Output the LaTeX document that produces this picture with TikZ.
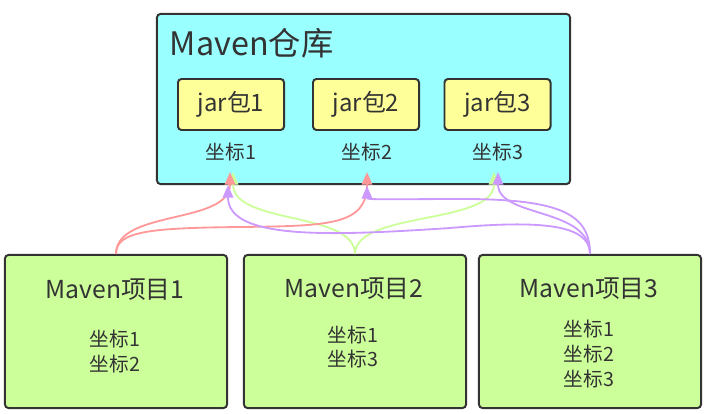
\documentclass[tikz,border=0pt]{standalone}
\usepackage{fontspec}
\setmainfont{Noto Sans CJK SC}
\usetikzlibrary{arrows.meta}

\definecolor{repocyan}{HTML}{99FFFF}
\definecolor{jaryellow}{HTML}{FFFF99}
\definecolor{projgreen}{HTML}{CCFF99}
\definecolor{edgegray}{HTML}{333333}
\definecolor{linkred}{HTML}{FF9999}
\definecolor{linkgreen}{HTML}{CCFF99}
\definecolor{linkpurple}{HTML}{CC99FF}

\begin{document}
\begin{tikzpicture}[x=0.025cm,y=-0.025cm,
    box/.style={draw=edgegray, line width=1.4pt, rounded corners=2.5pt, inner sep=0pt, text=edgegray},
    repobox/.style={box, fill=repocyan, minimum width=10.325cm, minimum height=4.25cm},
    jarbox/.style={box, fill=jaryellow, minimum width=2.65cm, minimum height=1.275cm, font=\fontsize{17}{20}\selectfont},
    projbox/.style={box, fill=projgreen, minimum width=5.55cm, minimum height=3.825cm},
    projtitle/.style={text=edgegray, font=\fontsize{17.6}{21}\selectfont},
    keytext/.style={text=edgegray, font=\fontsize{14}{17.5}\selectfont, align=center},
    link/.style={line width=1.3pt, -{Triangle[length=9pt,width=7.5pt]}}]
        \useasboundingbox (0,0) rectangle (707,413);

        % repository
        \node[repobox] (repo) at (363.5,99) {};
        \node[anchor=west, text=edgegray, font=\fontsize{23}{26}\selectfont] (repotitle) at (165,43) {Maven仓库};

        \node[jarbox] (jar1) at (231,104.5) {jar包1};
        \node[jarbox] (jar2) at (366,104.5) {jar包2};
        \node[jarbox] (jar3) at (497.5,104.5) {jar包3};

        \node[keytext] (key1) at (231,152) {坐标1};
        \node[keytext] (key2) at (367,152) {坐标2};
        \node[keytext] (key3) at (498,152) {坐标3};

        % arrow tips under the coordinates
        \coordinate (red1) at (230,172);
        \coordinate (green1) at (233,172);
        \coordinate (purple1) at (228,185);
        \coordinate (red2) at (367,172);
        \coordinate (purple2) at (367,186);
        \coordinate (green3) at (494,172);
        \coordinate (purple3) at (498,172);

        % projects
        \node[projbox] (proj1) at (116,331.5) {};
        \node[projtitle] (proj1title) at (115,290) {Maven项目1};
        \node[keytext] (proj1keys) at (115,351.5) {坐标1\\坐标2};

        \node[projbox] (proj2) at (355,331.5) {};
        \node[projtitle] (proj2title) at (354,289) {Maven项目2};
        \node[keytext] (proj2keys) at (353,347) {坐标1\\坐标3};

        \node[projbox] (proj3) at (590,331.5) {};
        \node[projtitle] (proj3title) at (589,289) {Maven项目3};
        \node[keytext] (proj3keys) at (589,354) {坐标1\\坐标2\\坐标3};

        % links of Maven项目2
        \draw[link, linkgreen] (proj2.north) .. controls +(0,-43) and +(0,53) .. (green1);
        \draw[link, linkgreen] (proj2.north) .. controls +(0,-43) and +(0,53) .. (green3);

        % links of Maven项目1
        \draw[link, linkred] (proj1.north) .. controls +(0,-45) and +(0,53) .. (red1);
        \draw[link, linkred] (proj1.north) .. controls +(0,-23) and (150,228) .. (240,227)
            .. controls (330,226) and +(0,53) .. (red2);

        % links of Maven项目3
        \draw[link, linkpurple] (proj3.north) .. controls +(0,-30) and (540,220) .. (450,228)
            .. controls (330,236) and +(0,55) .. (purple1);
        \draw[link, linkpurple] (proj3.north) .. controls +(0,-40) and (560,200) .. (470,199)
            .. controls (400,199) and +(0,14) .. (purple2);
        \draw[link, linkpurple] (proj3.north) .. controls +(0,-47) and +(0,46) .. (purple3);
\end{tikzpicture}
\end{document}
